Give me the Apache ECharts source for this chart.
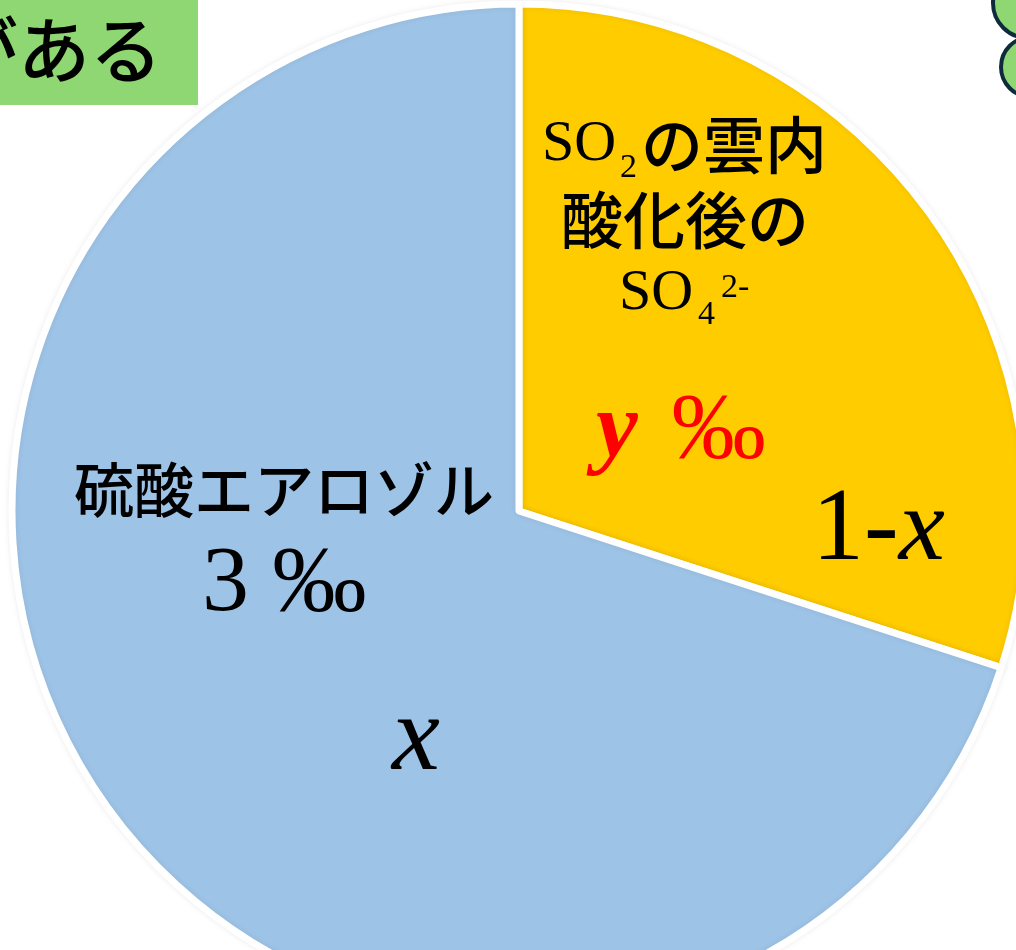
<!DOCTYPE html>
<html>
<head>
<meta charset="utf-8">
<title>硫酸エアロゾルとSO4の寄与</title>
<script src="https://cdn.jsdelivr.net/npm/echarts@6/dist/echarts.min.js"></script>
<style>
  html, body { margin: 0; padding: 0; background: #ffffff; }
  #chart { width: 1016px; height: 950px; }
</style>
</head>
<body>
<div id="chart"></div>
<script>
// Slices, clockwise from 12 o'clock
const categories = ['SO2の雲内酸化後のSO4 2-', '硫酸エアロゾル'];
const shares = [30, 70];
const sliceColors = ['#FFCC00', '#9DC3E6'];

const SERIF = '"Liberation Serif", "Times New Roman", serif';
const GOTHIC = '"Noto Sans CJK JP", "Noto Sans", sans-serif';

const chart = echarts.init(document.getElementById('chart'), null, { renderer: 'canvas' });

function txt(x, y, text, font, size, opts) {
  return {
    type: 'text',
    x: x, y: y,
    z: 10,
    style: Object.assign({
      text: text,
      fontFamily: font,
      fontSize: size,
      fill: '#000000',
      align: 'left',
      verticalAlign: 'middle'
    }, opts || {})
  };
}

const option = {
  backgroundColor: '#ffffff',
  animation: false,
  series: [{
    type: 'pie',
    center: [519, 511],
    radius: 507,
    startAngle: 90,
    clockwise: true,
    silent: true,
    label: { show: false },
    labelLine: { show: false },
    itemStyle: {
      borderColor: '#ffffff',
      borderWidth: 7,
      shadowBlur: 6,
      shadowColor: 'rgba(0,0,0,0.07)'
    },
    data: categories.map((name, i) => ({
      name: name,
      value: shares[i],
      itemStyle: { color: sliceColors[i] }
    }))
  }],
  graphic: [
    // green note box, top-left
    { type: 'rect', z: 5, shape: { x: -10, y: -10, width: 208, height: 115 }, style: { fill: '#8FD772' } },
    txt(-54, 50, 'がある', GOTHIC, 72, { fontWeight: 500 }),
    // cloud bubbles, top-right
    { type: 'circle', z: 5, shape: { cx: 1031, cy: 67, r: 30 }, style: { fill: '#8FD772', stroke: '#0E2B3C', lineWidth: 4 } },
    { type: 'circle', z: 6, shape: { cx: 1028, cy: 3, r: 35 }, style: { fill: '#8FD772', stroke: '#0E2B3C', lineWidth: 4 } },

    // yellow slice label
    txt(542, 145, 'SO', SERIF, 58),
    txt(620, 168, '2', SERIF, 34),
    txt(641, 145, 'の雲内', GOTHIC, 62, { fontWeight: 500 }),
    txt(561, 220, '酸化後の', GOTHIC, 62, { fontWeight: 500 }),
    txt(619, 294, 'SO', SERIF, 58),
    txt(698, 315, '4', SERIF, 34),
    txt(721, 288, '2-', SERIF, 34),
    {
      type: 'text', x: 596, y: 432, z: 10,
      style: {
        text: '{i|y}{n|‰}',
        verticalAlign: 'middle',
        rich: {
          i: { fontFamily: SERIF, fontSize: 94, fontStyle: 'italic', fontWeight: 'bold', fill: '#FF0000' },
          n: { fontFamily: SERIF, fontSize: 94, fill: '#FF0000', padding: [0, 0, 0, 34] }
        }
      }
    },
    {
      type: 'text', x: 812, y: 532, z: 10,
      style: {
        text: '{n|1-}{i|x}',
        verticalAlign: 'middle',
        rich: {
          n: { fontFamily: SERIF, fontSize: 104, fill: '#000000' },
          i: { fontFamily: SERIF, fontSize: 104, fontStyle: 'italic', fill: '#000000' }
        }
      }
    },

    // blue slice label
    txt(74, 490, '硫酸エアロゾル', GOTHIC, 60, { fontWeight: 500 }),
    txt(202, 585, '3 ‰', SERIF, 94),
    txt(416, 741, 'x', SERIF, 108, { fontStyle: 'italic', align: 'center' })
  ]
};

chart.setOption(option);
</script>
</body>
</html>
